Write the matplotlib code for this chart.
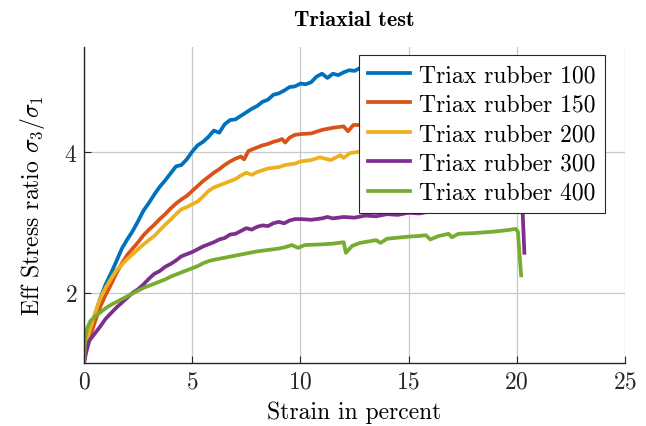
import matplotlib
matplotlib.use("Agg")
import matplotlib.pyplot as plt

plt.rcParams["font.family"] = "cmr10"
plt.rcParams["mathtext.fontset"] = "cm"
plt.rcParams["axes.formatter.use_mathtext"] = True
plt.rcParams["axes.unicode_minus"] = False

# strain (%) and effective stress ratio per test
strain_100 = [0, 0.1, 0.25, 0.5, 0.75, 1.0, 1.25, 1.5, 1.75, 2.0, 2.25, 2.5, 2.75, 3.0,
              3.25, 3.5, 3.75, 4.0, 4.25, 4.5, 4.75, 5.0, 5.25, 5.5, 5.75, 6.0, 6.25,
              6.5, 6.75, 7.0, 7.25, 7.5, 7.75, 8.0, 8.25, 8.5, 8.75, 9.0, 9.25, 9.5,
              9.75, 10.0, 10.25, 10.5, 10.75, 11.0, 11.25, 11.5, 11.75, 12.0, 12.25,
              12.5, 12.75, 13.5, 15.0, 17.0, 19.0, 19.8]
ratio_100 = [1.00, 1.25, 1.42, 1.68, 1.92, 2.12, 2.28, 2.45, 2.63, 2.76, 2.88, 3.02, 3.17,
             3.28, 3.40, 3.51, 3.60, 3.70, 3.80, 3.82, 3.90, 4.01, 4.10, 4.15, 4.22, 4.31,
             4.28, 4.40, 4.46, 4.47, 4.52, 4.57, 4.62, 4.66, 4.72, 4.75, 4.82, 4.84, 4.88,
             4.93, 4.94, 4.98, 4.97, 5.00, 5.08, 5.12, 5.06, 5.12, 5.10, 5.14, 5.17, 5.16,
             5.20, 5.22, 5.25, 5.28, 5.30, 5.31]

strain_150 = [0, 0.1, 0.25, 0.5, 0.75, 1.0, 1.25, 1.5, 1.75, 2.0, 2.25, 2.5, 2.75, 3.0,
              3.25, 3.5, 3.75, 4.0, 4.25, 4.5, 4.75, 5.0, 5.25, 5.5, 5.75, 6.0, 6.25,
              6.5, 6.75, 7.0, 7.25, 7.4, 7.6, 8.0, 8.25, 8.5, 8.75, 9.0, 9.15, 9.3, 9.5,
              9.75, 10.0, 10.5, 11.0, 11.5, 12.0, 12.2, 12.45, 12.75, 14.0, 16.0, 18.0,
              19.8]
ratio_150 = [1.00, 1.22, 1.35, 1.58, 1.80, 1.97, 2.12, 2.28, 2.42, 2.54, 2.63, 2.72, 2.82,
             2.90, 2.97, 3.05, 3.12, 3.20, 3.27, 3.33, 3.38, 3.45, 3.52, 3.59, 3.65, 3.71,
             3.76, 3.82, 3.87, 3.91, 3.94, 3.90, 4.02, 4.07, 4.10, 4.12, 4.15, 4.17, 4.19,
             4.14, 4.21, 4.25, 4.26, 4.27, 4.32, 4.35, 4.37, 4.30, 4.39, 4.39, 4.42, 4.45,
             4.47, 4.48]

strain_200 = [0, 0.1, 0.25, 0.5, 0.75, 1.0, 1.25, 1.5, 1.75, 2.0, 2.25, 2.5, 2.75, 3.0,
              3.25, 3.5, 3.75, 4.0, 4.25, 4.5, 4.75, 5.0, 5.25, 5.5, 5.75, 6.0, 6.25,
              6.5, 6.75, 7.0, 7.25, 7.5, 7.75, 8.0, 8.5, 9.0, 9.3, 9.75, 10.0, 10.5,
              10.9, 11.4, 11.85, 12.0, 12.3, 12.75, 14.0, 16.0, 18.0, 19.8]
ratio_200 = [1.00, 1.30, 1.45, 1.70, 1.92, 2.07, 2.20, 2.32, 2.40, 2.48, 2.55, 2.62, 2.69,
             2.75, 2.81, 2.89, 2.97, 3.04, 3.12, 3.19, 3.22, 3.26, 3.30, 3.37, 3.45, 3.50,
             3.53, 3.56, 3.59, 3.62, 3.67, 3.71, 3.68, 3.72, 3.77, 3.79, 3.82, 3.84, 3.87,
             3.89, 3.93, 3.89, 3.96, 3.92, 3.99, 4.01, 4.05, 4.08, 4.10, 4.12]

strain_300 = [0, 0.1, 0.25, 0.5, 0.75, 1.0, 1.25, 1.5, 1.75, 2.0, 2.25, 2.5, 2.75, 3.0,
              3.25, 3.5, 3.75, 4.0, 4.25, 4.5, 4.75, 5.0, 5.25, 5.5, 5.75, 6.0, 6.25,
              6.5, 6.75, 7.0, 7.25, 7.5, 7.75, 8.0, 8.25, 8.5, 8.75, 9.0, 9.25, 9.5,
              9.75, 10.0, 10.5, 11.0, 11.25, 11.5, 12.0, 12.5, 13.0, 13.5, 14.0, 14.5,
              15.0, 15.5, 16.0, 16.5, 17.0, 18.0, 19.0, 20.25, 20.35]
ratio_300 = [1.00, 1.15, 1.32, 1.42, 1.52, 1.63, 1.71, 1.79, 1.86, 1.93, 2.00, 2.05, 2.12,
             2.20, 2.27, 2.31, 2.37, 2.41, 2.46, 2.52, 2.55, 2.58, 2.62, 2.66, 2.69, 2.72,
             2.76, 2.78, 2.83, 2.84, 2.88, 2.92, 2.90, 2.94, 2.96, 2.95, 2.99, 3.01, 2.99,
             3.03, 3.05, 3.05, 3.04, 3.06, 3.08, 3.06, 3.08, 3.07, 3.10, 3.09, 3.12, 3.11,
             3.14, 3.13, 3.16, 3.15, 3.18, 3.24, 3.27, 3.30, 2.57]

strain_400 = [0, 0.05, 0.15, 0.3, 0.5, 0.75, 1.0, 1.25, 1.5, 1.75, 2.0, 2.25, 2.5, 2.75,
              3.0, 3.25, 3.5, 3.75, 4.0, 4.25, 4.5, 4.75, 5.0, 5.25, 5.5, 5.75, 6.0, 6.5,
              7.0, 7.5, 8.0, 8.5, 9.0, 9.3, 9.6, 9.9, 10.2, 11.0, 11.5, 12.0, 12.1, 12.4,
              12.75, 13.5, 13.7, 14.0, 15.0, 15.5, 15.8, 16.0, 16.4, 16.85, 17.0, 17.3,
              18.0, 18.9, 19.5, 19.95, 20.05, 20.2]
ratio_400 = [1.00, 1.35, 1.50, 1.60, 1.66, 1.72, 1.78, 1.83, 1.87, 1.91, 1.95, 1.99, 2.03,
             2.07, 2.10, 2.13, 2.16, 2.19, 2.23, 2.26, 2.29, 2.32, 2.35, 2.38, 2.42, 2.45,
             2.47, 2.50, 2.53, 2.56, 2.59, 2.61, 2.63, 2.65, 2.68, 2.64, 2.68, 2.69, 2.70,
             2.72, 2.57, 2.67, 2.71, 2.75, 2.71, 2.77, 2.80, 2.81, 2.82, 2.76, 2.81, 2.84,
             2.79, 2.84, 2.85, 2.87, 2.89, 2.91, 2.87, 2.25]

labels = ["Triax rubber 100", "Triax rubber 150", "Triax rubber 200",
          "Triax rubber 300", "Triax rubber 400"]
colors = ["#0072BD", "#D95319", "#EDB120", "#7E2F8E", "#77AC30"]

series = [(strain_100, ratio_100), (strain_150, ratio_150), (strain_200, ratio_200),
          (strain_300, ratio_300), (strain_400, ratio_400)]

fig = plt.figure(figsize=(6.46, 4.27), dpi=100)
ax = fig.add_axes([0.130, 0.1475, 0.8375, 0.74])

for (x, y), lab, c in zip(series, labels, colors):
    ax.plot(x, y, color=c, lw=2.7, label=lab)

ax.set_xlim(0, 25)
ax.set_ylim(1, 5.5)
ax.set_xticks([0, 5, 10, 15, 20, 25])
ax.set_yticks([2, 4])
ax.grid(True, color="#c8c8c8", lw=0.9)
ax.set_axisbelow(True)

for s in ["top", "right"]:
    ax.spines[s].set_visible(False)
for s in ["left", "bottom"]:
    ax.spines[s].set_color("#262626")
    ax.spines[s].set_linewidth(1.0)
ax.tick_params(direction="in", length=5, width=0.8, color="#262626",
               labelsize=17, labelcolor="#262626", pad=5)

ax.set_xlabel("Strain in percent", fontsize=17, labelpad=6)
ax.set_ylabel(r"Eff Stress ratio $\sigma_3/\sigma_1$", fontsize=17, labelpad=12)
ax.set_title("Triaxial test", fontsize=16, family="cmb10", pad=16)

leg = ax.legend(loc="upper right", bbox_to_anchor=(0.963, 0.976), fontsize=17,
                frameon=True, fancybox=False, framealpha=1, edgecolor="#262626",
                handlelength=1.75, handletextpad=0.4, borderpad=0.4,
                labelspacing=0.31, borderaxespad=0)
leg.get_frame().set_linewidth(0.8)

fig.savefig("out.png", dpi=100)
